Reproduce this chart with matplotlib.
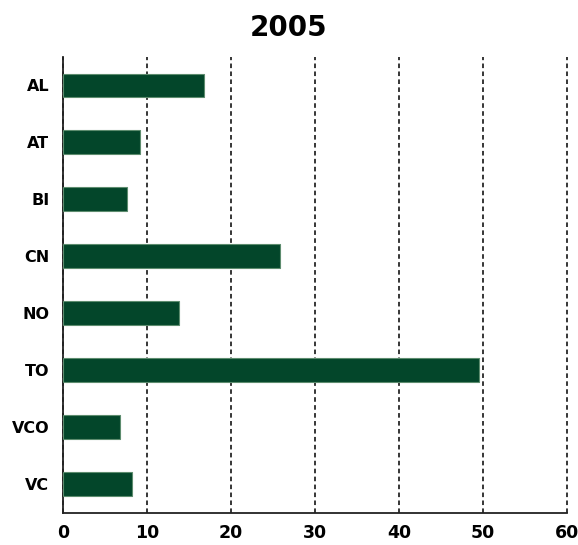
import matplotlib
matplotlib.use("Agg")
import matplotlib.pyplot as plt

regions = ["AL", "AT", "BI", "CN", "NO", "TO", "VCO", "VC"]
values = [16.8, 9.2, 7.6, 25.8, 13.8, 49.5, 6.75, 8.15]
xticks = [0, 10, 20, 30, 40, 50, 60]

fig = plt.figure(figsize=(5.78, 5.45), dpi=100)
ax = fig.add_axes([63.3 / 578, 1 - 512.7 / 545, (566.7 - 63.3) / 578, (512.7 - 57) / 545])

# barre orizzontali
ax.barh(range(len(regions)), values, height=0.42, color="#03462a",
        edgecolor="#5d8c6e", linewidth=0.8, zorder=3)

ax.set_xlim(0, 60)
ax.set_ylim(len(regions) - 0.5, -0.5)
ax.set_xticks(xticks)
ax.set_yticks(range(len(regions)))
ax.set_yticklabels(regions)

# griglia tratteggiata
ax.grid(axis="x", color="black", linestyle=(0, (3, 2.2)), linewidth=1.1, zorder=1)
ax.grid(axis="y", visible=False)
for gl in ax.get_xgridlines():
    gl.set_clip_on(False)

for side in ["top", "right"]:
    ax.spines[side].set_visible(False)
for side in ["left", "bottom"]:
    ax.spines[side].set_linewidth(1.3)
    ax.spines[side].set_color("#222222")

ax.tick_params(axis="x", length=0, pad=8, labelsize=12.5)
ax.tick_params(axis="y", length=0, pad=10, labelsize=11.5)
for lbl in ax.get_xticklabels() + ax.get_yticklabels():
    lbl.set_fontweight("heavy")

fig.suptitle("2005", fontsize=20, fontweight="heavy", y=1 - 28.5 / 545, va="center")

fig.savefig("out.png", dpi=100)
